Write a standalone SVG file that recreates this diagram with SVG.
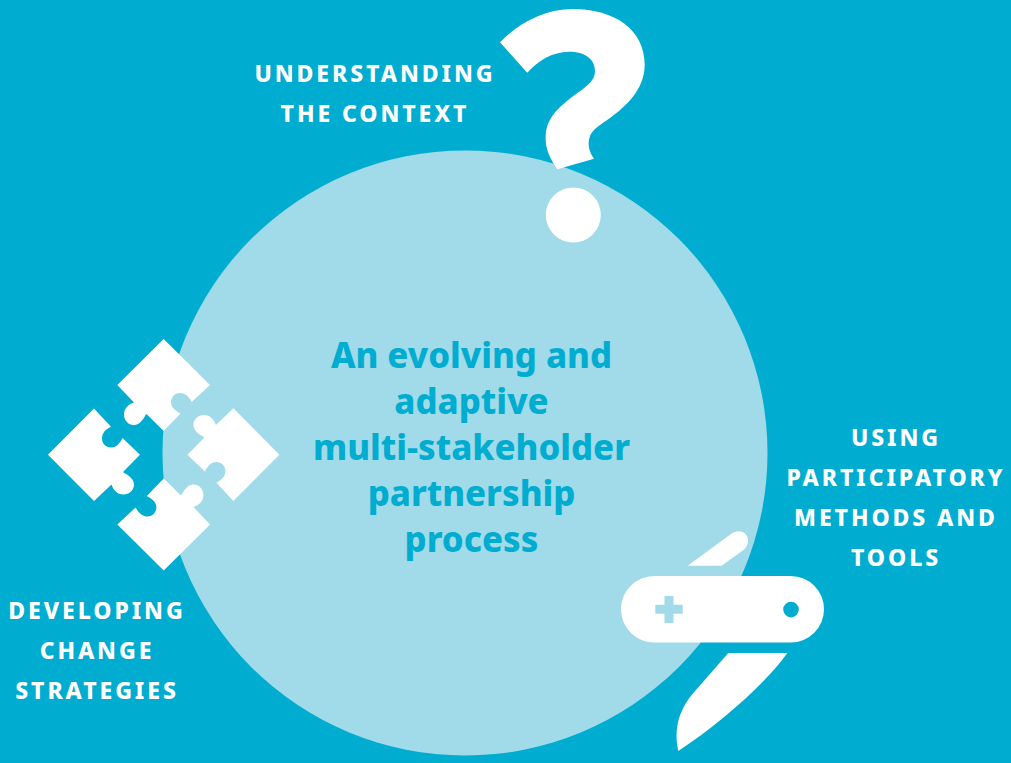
<svg xmlns="http://www.w3.org/2000/svg" width="1011" height="763" viewBox="0 0 1011 763">
<style>
.w{fill:#fff}
.l{font-family:"Noto Sans","Open Sans",sans-serif;font-weight:800;font-size:23px;letter-spacing:2.9px;fill:#fff;text-anchor:middle}
.c{font-family:"Noto Sans","Open Sans",sans-serif;font-weight:800;font-size:34.7px;fill:#00add0;text-anchor:middle}
</style>
<defs>
<path id="piece" d="M163.7,339 L210,385 L191.7,402 C190,399 187,393 180,393 C174,393 171,398 171,402 C171,408 176,411 180.5,413.5 L163.7,431 L147,414.5 C146,414 145.5,415 145,416 C143,420 139,425 134,425 C128,425 124,420 124,414.5 C124,408 129,404 134,402.5 L117.3,385 Z"/>
</defs>
<rect width="1011" height="763" fill="#00add0"/>
<circle id="main-circle" cx="465" cy="453" r="302.5" fill="#a1dbe9"/>
<g id="center-text">
<text class="c" x="471.5" y="368">An evolving and</text>
<text class="c" x="471.5" y="414">adaptive</text>
<text class="c" x="471.5" y="460">multi-stakeholder</text>
<text class="c" x="471.5" y="506">partnership</text>
<text class="c" x="471.5" y="552">process</text>
</g>
<g id="question">
<path class="w" d="M500,42.3 C520,22 545,9 573,9 C615,9 645,30 644.7,65 C644.5,90 625,107 610,118 C600,125 593,129 590,136 C587,144 589,152 594,158.7 L557.3,169.3 C549,157 545,147 545.7,136 C546.5,118 558,108 572,97 C584,88 595,82 595,71 C595,59 585,51.7 569,51.7 C552,51.7 538,61 527.3,72.7 Z"/>
<circle class="w" cx="573.3" cy="215" r="27.5"/>
<text class="l" x="375" y="82">UNDERSTANDING</text>
<text class="l" x="375" y="122">THE CONTEXT</text>
</g>
<g id="puzzle">
<use href="#piece" class="w"/>
<use href="#piece" class="w" transform="rotate(90 163.7 454.7)"/>
<use href="#piece" class="w" transform="rotate(180 163.7 454.7)"/>
<use href="#piece" class="w" transform="rotate(270 163.7 454.7)"/>
<text class="l" x="97" y="619">DEVELOPING</text>
<text class="l" x="97" y="659">CHANGE</text>
<text class="l" x="97" y="699">STRATEGIES</text>
</g>
<g id="knife">
<path class="w" d="M687.7,565.7 L731,534 C735,531 741,530 745,533.5 C749.5,538 749,545 744,549.5 L721.7,565.7 Z"/>
<path class="w" d="M728.3,653 L787.3,653 C767,682 722,722 678.3,751 C674,732 677,712 693.3,693 Z"/>
<rect class="w" x="621" y="576" width="203" height="66.5" rx="33.2"/>
<path fill="#a1dbe9" d="M664.5,596 H673.5 V604.8 H682.7 V613.8 H673.5 V623 H664.5 V613.8 H655.3 V604.8 H664.5 Z"/>
<circle cx="791" cy="609.6" r="7.8" fill="#00add0"/>
<text class="l" x="896" y="446">USING</text>
<text class="l" x="896" y="486">PARTICIPATORY</text>
<text class="l" x="896" y="526">METHODS AND</text>
<text class="l" x="896" y="566">TOOLS</text>
</g>
<g id="connectors"/>
</svg>
